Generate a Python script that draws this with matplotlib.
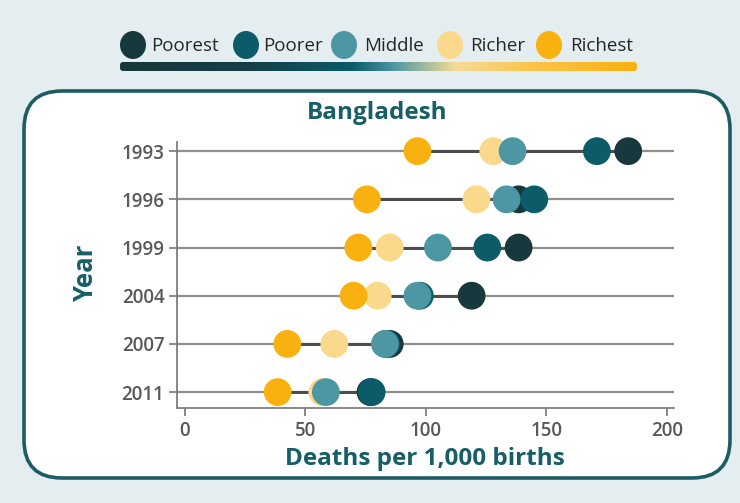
import numpy as np
import matplotlib
matplotlib.use("Agg")
import matplotlib.pyplot as plt
from matplotlib.patches import FancyBboxPatch, Circle, Ellipse
from matplotlib.colors import LinearSegmentedColormap

years = ["1993", "1996", "1999", "2004", "2007", "2011"]
groups = ["Poorest", "Poorer", "Middle", "Richer", "Richest"]
poorest = [184, 138.5, 138.5, 119, 85, 77]
poorer = [171, 145, 125.5, 97.5, 83.5, 77.5]
middle = [136, 133.5, 105, 96.5, 83, 58.5]
richer = [128, 121, 85, 80, 62, 57]
richest = [96.5, 75.5, 72, 70, 42.5, 38.5]
xticks = [0, 50, 100, 150, 200]

colors = {"Poorest": "#17383c", "Poorer": "#0b5b69", "Middle": "#4c97a3",
          "Richer": "#fbd98c", "Richest": "#f8b10e"}
zorders = {"Poorest": 3, "Poorer": 4, "Richer": 5, "Middle": 6, "Richest": 7}
series = {"Poorest": poorest, "Poorer": poorer, "Middle": middle,
          "Richer": richer, "Richest": richest}

TEAL = "#175e66"
BG = "#e4eef0"
W, H = 740, 503
FONT = ["Open Sans", "DejaVu Sans"]

fig = plt.figure(figsize=(W / 100, H / 100), dpi=100)
fig.patch.set_facecolor(BG)

# background canvas axes in pixel coordinates
bg = fig.add_axes([0, 0, 1, 1])
bg.set_xlim(0, W)
bg.set_ylim(H, 0)
bg.axis("off")
bg.set_zorder(0)

frame = FancyBboxPatch((24, 91), 706, 387, boxstyle="round,pad=0,rounding_size=38",
                       facecolor="white", edgecolor="#1c5c62", linewidth=2.6)
bg.add_patch(frame)

# legend
leg_circle_x = [133, 246, 344, 450, 549]
leg_text_x = [151, 263, 364, 470, 570]
for g, cx, tx in zip(groups, leg_circle_x, leg_text_x):
    bg.add_patch(Ellipse((cx, 45), 26, 28, facecolor=colors[g], edgecolor="none"))
    bg.text(tx, 46, g, fontsize=13.5, color="#262626", va="center", ha="left",
            family=FONT)

cmap = LinearSegmentedColormap.from_list(
    "wealth", [(0, "#17383c"), (0.25, "#153f45"), (0.45, "#0b5b69"),
               (0.53, "#4c97a3"), (0.65, "#f5dc96"), (0.8, "#fbc44a"), (1, "#f8b10e")])
grad = np.linspace(0, 1, 512).reshape(1, -1)
im = bg.imshow(grad, cmap=cmap, aspect="auto", extent=[120, 637, 71, 62], zorder=2)
clip = FancyBboxPatch((120, 62), 517, 9, boxstyle="round,pad=0,rounding_size=3",
                      transform=bg.transData, facecolor="none", edgecolor="none")
bg.add_patch(clip)
im.set_clip_path(clip)
bg.set_xlim(0, W)
bg.set_ylim(H, 0)

# main plot
ax = fig.add_axes([177 / W, 1 - 408 / H, (674 - 177) / W, (408 - 142) / H])
ax.set_zorder(1)
ax.patch.set_alpha(0)
ypos = np.arange(len(years))
xmin, xmax = -3.3, 203
ax.set_xlim(xmin, xmax)
ax.set_ylim(5.33, -0.19)

ax.hlines(ypos, xmin, xmax, color="#8f8f8f", linewidth=1.6, zorder=1)
vals = np.array([series[g] for g in groups])
ax.hlines(ypos, vals.min(axis=0), vals.max(axis=0), color="#4d4d4d", linewidth=2.2, zorder=2)

for g in groups:
    ax.scatter(series[g], ypos, s=400, color=colors[g], edgecolors="none",
               zorder=zorders[g], clip_on=False)

for s in ["top", "right"]:
    ax.spines[s].set_visible(False)
for s in ["left", "bottom"]:
    ax.spines[s].set_color("#7f7f7f")
    ax.spines[s].set_linewidth(1.3)

ax.set_yticks(ypos)
ax.set_yticklabels(years)
ax.set_xticks(xticks)
ax.set_xticklabels([str(t) for t in xticks])
ax.tick_params(axis="both", colors="#7f7f7f", labelcolor="#595959", labelsize=13.5,
               length=6, width=1.3, pad=3)
for lab in ax.get_xticklabels() + ax.get_yticklabels():
    lab.set_family(FONT)
    lab.set_fontweight("semibold")

fig.text(377 / W, 1 - 113 / H, "Bangladesh", fontsize=17.5, fontweight="bold",
         color=TEAL, ha="center", va="center", family=FONT)
fig.text(425 / W, 1 - 459 / H, "Deaths per 1,000 births", fontsize=17.5, fontweight="bold",
         color=TEAL, ha="center", va="center", family=FONT)
fig.text(85 / W, 1 - 272 / H, "Year", fontsize=18.5, fontweight="bold", rotation=90,
         color=TEAL, ha="center", va="center", family=FONT)

fig.savefig("out.png", dpi=100, facecolor=BG)
